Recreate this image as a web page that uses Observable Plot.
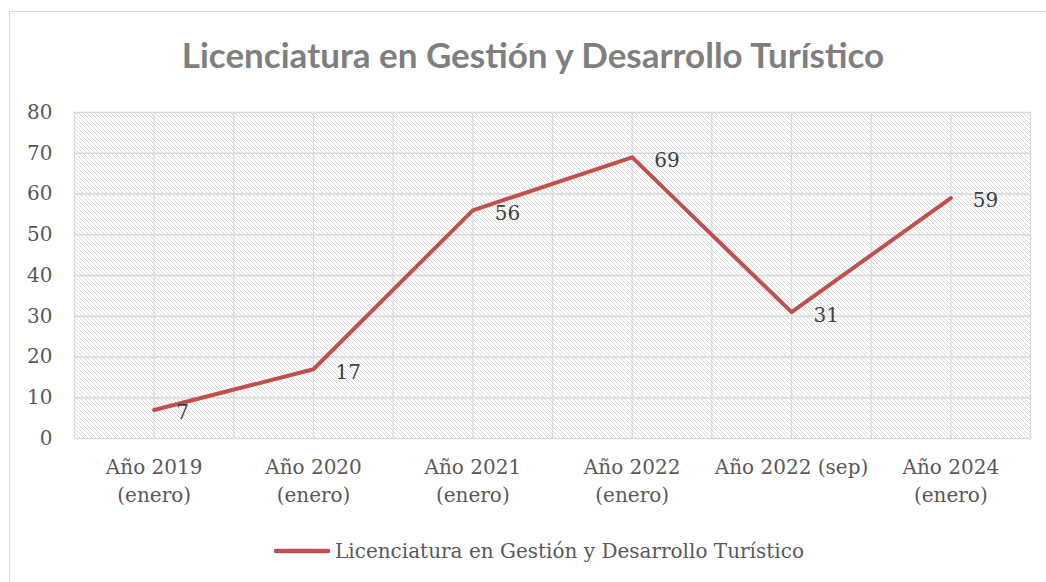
<!DOCTYPE html>
<html>
<head>
<meta charset="utf-8">
<script src="https://cdn.jsdelivr.net/npm/d3@7"></script>
<script src="https://cdn.jsdelivr.net/npm/@observablehq/plot@0.6"></script>
<style>
  body { margin: 0; background: #fff; }
  #wrap { position: relative; width: 1046px; height: 582px; overflow: hidden; background: #fff; }
  #border { position: absolute; left: 9px; top: 11px; width: 1100px; height: 620px; border: 1px solid #d9d9d9; }
  #title { position: absolute; left: 0; top: 36px; width: 1066px; text-align: center; font-family: Lato, sans-serif; font-weight: bold; font-size: 35px; line-height: 36px; color: #7f7f7f; white-space: nowrap; }
  #chart { position: absolute; left: 0; top: 90px; }
  #legend { position: absolute; left: 273px; top: 540px; height: 22px; display: flex; align-items: center; font-family: "DejaVu Serif", serif; font-size: 20px; color: #595959; white-space: nowrap; }
</style>
</head>
<body>
<div id="wrap">
  <div id="border"></div>
  <div id="title"></div>
  <div id="chart"></div>
  <div id="legend"></div>
</div>
<script>
const seriesName = "Licenciatura en Gestión y Desarrollo Turístico";
const categories = ["Año 2019\n(enero)", "Año 2020\n(enero)", "Año 2021\n(enero)", "Año 2022\n(enero)", "Año 2022 (sep)", "Año 2024\n(enero)"];
const values = [7, 17, 56, 69, 31, 59];
const yTicks = [0, 10, 20, 30, 40, 50, 60, 70, 80];

const lineColor = "#c0504d";
const gridColor = "#d9d9d9";

document.getElementById("title").textContent = seriesName;

const idx = categories.map((_, i) => i);
const halfSteps = d3.range(-0.5, categories.length, 0.5);

function hatch(index, scales, values, dims) {
  const g = d3.create("svg:g");
  const p = g.append("defs").append("pattern")
    .attr("id", "hatch").attr("patternUnits", "userSpaceOnUse")
    .attr("width", 4).attr("height", 4);
  p.append("rect").attr("width", 4).attr("height", 4).attr("fill", "#fff");
  p.append("path").attr("d", "M-1,-1L5,5M-1,3L1,5M3,-1L5,1")
    .attr("stroke", "#dadada").attr("stroke-width", 1);
  g.append("rect")
    .attr("x", dims.marginLeft).attr("y", dims.marginTop)
    .attr("width", dims.width - dims.marginLeft - dims.marginRight)
    .attr("height", dims.height - dims.marginTop - dims.marginBottom)
    .attr("fill", "url(#hatch)");
  return g.node();
}

const chart = Plot.plot({
  width: 1046,
  height: 440,
  marginTop: 22,
  marginBottom: 92,
  marginLeft: 74,
  marginRight: 16,
  style: { fontFamily: "'DejaVu Serif', serif", fontSize: "20px", background: "transparent", overflow: "visible" },
  x: { type: "linear", domain: [-0.5, categories.length - 0.5] },
  y: { domain: [0, 80] },
  marks: [
    hatch,
    Plot.ruleX(halfSteps, { x: d => d, stroke: gridColor, strokeWidth: 1.3 }),
    Plot.ruleY(yTicks, { y: d => d, stroke: gridColor, strokeWidth: 1.3 }),
    Plot.axisY({ ticks: yTicks, tickSize: 0, tickPadding: 22, fill: "#595959", fontSize: 20, label: null }),
    Plot.axisX({ ticks: idx, tickFormat: i => categories[i], tickSize: 0, tickPadding: 16, lineHeight: 1.4, fill: "#595959", fontSize: 20, label: null }),
    Plot.line(idx, { x: i => i, y: i => values[i], stroke: lineColor, strokeWidth: 4, strokeLinejoin: "round", strokeLinecap: "round" }),
    Plot.text(idx, { x: i => i, y: i => values[i], text: i => String(values[i]), dx: 22, dy: 3, textAnchor: "start", fill: "#404040", fontSize: 20 })
  ]
});
document.getElementById("chart").appendChild(chart);

const legend = document.getElementById("legend");
legend.innerHTML = `<svg width="58" height="10" style="margin-right:4px"><line x1="3" y1="5" x2="55" y2="5" stroke="${lineColor}" stroke-width="4.5" stroke-linecap="round"/></svg><span></span>`;
legend.querySelector("span").textContent = seriesName;
</script>
</body>
</html>
